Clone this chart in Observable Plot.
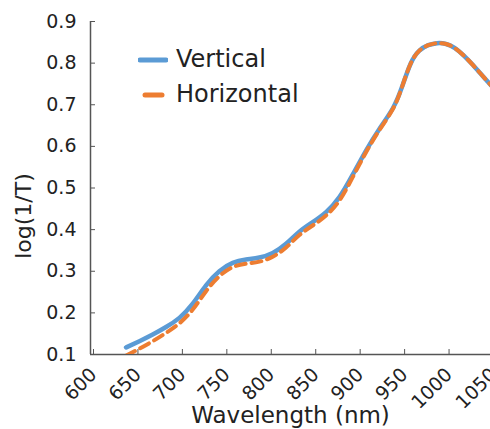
<!DOCTYPE html>
<html>
<head>
<meta charset="utf-8">
<script src="https://cdn.jsdelivr.net/npm/d3@7"></script>
<script src="https://cdn.jsdelivr.net/npm/@observablehq/plot@0.6"></script>
<style>
  html, body { margin: 0; padding: 0; background: #fff; }
  #wrap { position: relative; width: 490px; height: 429px; overflow: hidden; font-family: "DejaVu Sans", sans-serif; }
  #legend { position: absolute; left: 138px; top: 42px; font-size: 24px; color: #222; line-height: 35px; }
  #legend .row { display: flex; align-items: center; }
  #legend svg { margin-right: 8px; }
</style>
</head>
<body>
<div id="wrap">
  <div id="chart"></div>
  <div id="legend"></div>
</div>
<script>
const wavelength = [640, 655, 670, 685, 700, 715, 730, 745, 760, 775, 790, 805, 820, 835, 850, 865, 880, 895, 910, 925, 940, 950, 960, 970, 980, 990, 1000, 1010, 1020, 1030, 1040, 1050, 1055];
const vertical   = [0.117, 0.132, 0.148, 0.166, 0.188, 0.222, 0.266, 0.300, 0.320, 0.328, 0.333, 0.344, 0.366, 0.395, 0.418, 0.442, 0.478, 0.532, 0.590, 0.642, 0.691, 0.740, 0.798, 0.830, 0.843, 0.848, 0.846, 0.836, 0.818, 0.796, 0.772, 0.748, 0.736];
const horizontal = [0.097, 0.114, 0.132, 0.152, 0.175, 0.208, 0.252, 0.288, 0.310, 0.318, 0.323, 0.335, 0.357, 0.387, 0.410, 0.434, 0.470, 0.526, 0.586, 0.639, 0.689, 0.740, 0.798, 0.830, 0.843, 0.848, 0.846, 0.836, 0.818, 0.796, 0.772, 0.748, 0.736];
const seriesNames = ["Vertical", "Horizontal"];
const seriesColors = ["#5B9BD5", "#ED7D31"];
const xTicks = [600, 650, 700, 750, 800, 850, 900, 950, 1000, 1050];
const yTicks = [0.1, 0.2, 0.3, 0.4, 0.5, 0.6, 0.7, 0.8, 0.9];

const vData = wavelength.map((w, i) => ({w, v: vertical[i]}));
const hData = wavelength.map((w, i) => ({w, v: horizontal[i]}));

const chart = Plot.plot({
  width: 490,
  height: 429,
  marginLeft: 90,
  marginRight: 0,
  marginTop: 21,
  marginBottom: 75,
  style: {fontFamily: "DejaVu Sans, sans-serif", fontSize: "19px", color: "#222", background: "#fff"},
  x: {domain: [600, 1050]},
  y: {domain: [0.1, 0.9]},
  marks: [
    Plot.axisY({ticks: yTicks, tickFormat: d3.format(".1f"), tickSize: -5, tickPadding: 19, stroke: "#555", label: null, fontSize: 19}),
    Plot.axisX({ticks: xTicks, tickFormat: d => String(d), tickSize: -5, tickPadding: 22, dx: 3, tickRotate: -45, stroke: "#555", label: null, fontSize: 19}),
    Plot.ruleX([600], {stroke: "#555", strokeWidth: 1.5}),
    Plot.ruleY([0.1], {stroke: "#555", strokeWidth: 1.5}),
    Plot.line(vData, {x: "w", y: "v", stroke: seriesColors[0], strokeWidth: 4.5, curve: "natural", clip: true}),
    Plot.line(hData, {x: "w", y: "v", stroke: seriesColors[1], strokeWidth: 4, strokeDasharray: "10,6", curve: "natural", clip: true}),
    Plot.text(["Wavelength (nm)"], {frameAnchor: "bottom", dy: 68, fontSize: 23, fill: "#222"}),
    Plot.text(["log(1/T)"], {frameAnchor: "left", textAnchor: "middle", dx: -67, dy: 28, rotate: -90, fontSize: 22, fill: "#222"})
  ]
});
document.getElementById("chart").appendChild(chart);

const legend = document.getElementById("legend");
seriesNames.forEach((name, i) => {
  const row = document.createElement("div");
  row.className = "row";
  const dash = i === 1 ? 'stroke-dasharray="17,20" stroke-dashoffset="-5"' : "";
  row.innerHTML = `<svg width="30" height="8"><line x1="2" y1="4" x2="28" y2="4" stroke="${seriesColors[i]}" stroke-width="5" stroke-linecap="round" ${dash}/></svg><span>${name}</span>`;
  legend.appendChild(row);
});
</script>
</body>
</html>
